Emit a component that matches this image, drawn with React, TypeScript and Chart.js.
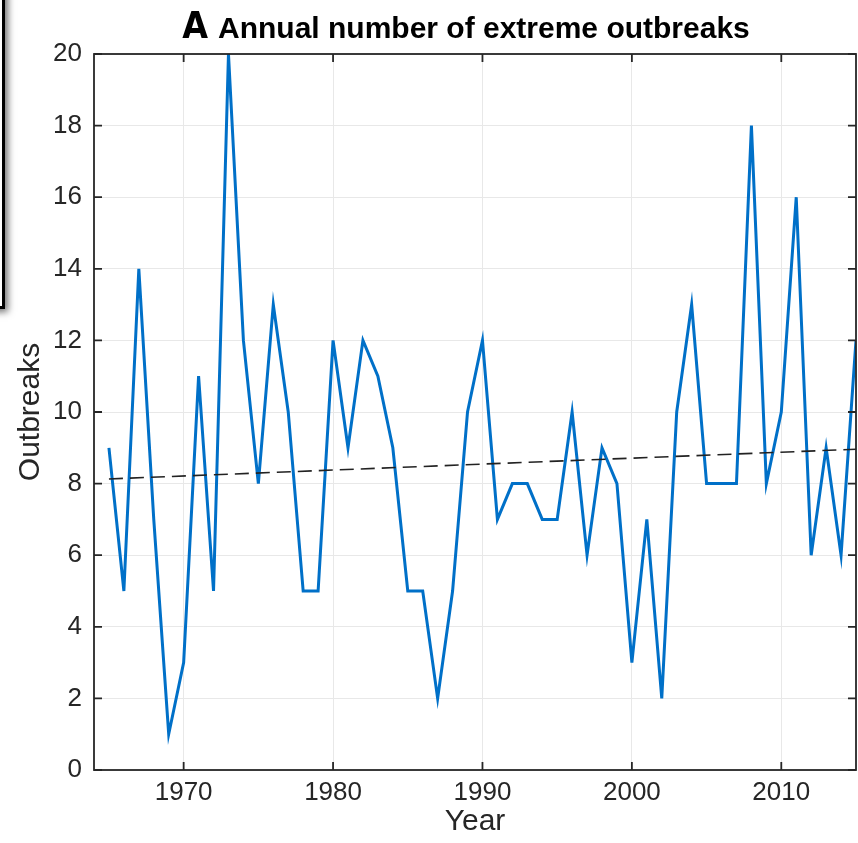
import React, { useEffect, useRef } from "react";
import { Chart, registerables } from "chart.js";

Chart.register(...registerables);

const YEARS = [
  1965, 1966, 1967, 1968, 1969, 1970, 1971, 1972, 1973, 1974,
  1975, 1976, 1977, 1978, 1979, 1980, 1981, 1982, 1983, 1984,
  1985, 1986, 1987, 1988, 1989, 1990, 1991, 1992, 1993, 1994,
  1995, 1996, 1997, 1998, 1999, 2000, 2001, 2002, 2003, 2004,
  2005, 2006, 2007, 2008, 2009, 2010, 2011, 2012, 2013, 2014,
  2015,
];
const OUTBREAKS = [
  9, 5, 14, 7, 1, 3, 11, 5, 20, 12,
  8, 13, 10, 5, 5, 12, 9, 12, 11, 9,
  5, 5, 2, 5, 10, 12, 7, 8, 8, 7,
  7, 10, 6, 9, 8, 3, 7, 2, 10, 13,
  8, 8, 8, 18, 8, 10, 16, 6, 9, 6,
  12,
];
const TREND_YEARS = [1965, 2015];
const TREND_VALUES = [8.13, 8.96];

const X_TICKS = [1970, 1980, 1990, 2000, 2010];
const Y_TICKS = [0, 2, 4, 6, 8, 10, 12, 14, 16, 18, 20];

const TITLE_LETTER = "A";
const TITLE_TEXT = "Annual number of extreme outbreaks";
const X_LABEL = "Year";
const Y_LABEL = "Outbreaks";

const FAMILY = "'Liberation Sans', Arial, Helvetica, sans-serif";
const AXIS_COLOR = "#262626";

const framePlugin = {
  id: "matlabFrame",
  afterDatasetsDraw(chart: any) {
    const { ctx, chartArea: a, scales } = chart;
    ctx.save();
    ctx.strokeStyle = AXIS_COLOR;
    ctx.lineWidth = 1.8;
    ctx.strokeRect(a.left, a.top, a.right - a.left, a.bottom - a.top);
    const tl = 8;
    ctx.beginPath();
    for (const v of X_TICKS) {
      const x = scales.x.getPixelForValue(v);
      ctx.moveTo(x, a.bottom);
      ctx.lineTo(x, a.bottom - tl);
      ctx.moveTo(x, a.top);
      ctx.lineTo(x, a.top + tl);
    }
    for (const v of Y_TICKS) {
      const y = scales.y.getPixelForValue(v);
      ctx.moveTo(a.left, y);
      ctx.lineTo(a.left + tl, y);
      ctx.moveTo(a.right, y);
      ctx.lineTo(a.right - tl, y);
    }
    ctx.stroke();

    // title
    ctx.fillStyle = "#000";
    ctx.textBaseline = "alphabetic";
    ctx.textAlign = "left";
    const letterFont =
      "bold 37px 'Liberation Sans Narrow', 'DejaVu Sans Condensed', 'Liberation Sans', sans-serif";
    const textFont = `bold 30px ${FAMILY}`;
    ctx.font = letterFont;
    const wA = ctx.measureText(TITLE_LETTER).width;
    ctx.font = textFont;
    const wT = ctx.measureText(TITLE_TEXT).width;
    const gap = 10;
    const total = wA + gap + wT;
    const cx = (a.left + a.right) / 2 - 9;
    const startX = cx - total / 2;
    const baseY = a.top - 16;
    ctx.font = letterFont;
    ctx.fillText(TITLE_LETTER, startX, baseY);
    ctx.font = textFont;
    ctx.fillText(TITLE_TEXT, startX + wA + gap, baseY);
    ctx.restore();
  },
};

export default function App() {
  const ref = useRef<HTMLCanvasElement>(null);

  useEffect(() => {
    document.body.style.margin = "0";
    const outbreakPoints = YEARS.map((yr, i) => ({ x: yr, y: OUTBREAKS[i] }));
    const trendPoints = TREND_YEARS.map((yr, i) => ({ x: yr, y: TREND_VALUES[i] }));

    const chart = new Chart(ref.current as HTMLCanvasElement, {
      type: "line",
      data: {
        datasets: [
          {
            label: "Trend",
            data: trendPoints,
            borderColor: "#222222",
            borderWidth: 1.6,
            borderDash: [14, 7],
            pointRadius: 0,
            fill: false,
            tension: 0,
          },
          {
            label: "Outbreaks",
            data: outbreakPoints,
            borderColor: "#0070C8",
            borderWidth: 3,
            pointRadius: 0,
            fill: false,
            tension: 0,
          },
        ],
      },
      options: {
        animation: false,
        responsive: false,
        devicePixelRatio: 1,
        layout: { padding: { left: 0, right: 2, top: 54, bottom: 0 } },
        plugins: {
          legend: { display: false },
          tooltip: { enabled: false },
          title: { display: false },
        },
        scales: {
          x: {
            type: "linear",
            min: 1964,
            max: 2015,
            afterBuildTicks: (s: any) => {
              s.ticks = X_TICKS.map((v) => ({ value: v }));
            },
            afterFit: (s: any) => {
              s.height = 73;
            },
            grid: { color: "#e8e8e8", lineWidth: 1, drawTicks: false },
            border: { display: false },
            ticks: {
              padding: 7,
              color: AXIS_COLOR,
              font: { family: FAMILY, size: 26 },
              maxRotation: 0,
              autoSkip: false,
              callback: (v: any) => String(v),
            },
            title: {
              display: true,
              text: X_LABEL,
              color: AXIS_COLOR,
              font: { family: FAMILY, size: 30 },
              padding: { top: 0, bottom: 3 },
            },
          },
          y: {
            type: "linear",
            min: 0,
            max: 20,
            afterBuildTicks: (s: any) => {
              s.ticks = Y_TICKS.map((v) => ({ value: v }));
            },
            afterFit: (s: any) => {
              s.width = 94;
            },
            grid: { color: "#e8e8e8", lineWidth: 1, drawTicks: false },
            border: { display: false },
            ticks: {
              padding: 12,
              color: AXIS_COLOR,
              font: { family: FAMILY, size: 26 },
              autoSkip: false,
              callback: (v: any) => String(v),
            },
            title: {
              display: true,
              text: Y_LABEL,
              color: AXIS_COLOR,
              font: { family: FAMILY, size: 30 },
              padding: { top: 13, bottom: 0 },
            },
          },
        },
      },
      plugins: [framePlugin],
    } as any);

    return () => chart.destroy();
  }, []);

  return (
    <div
      style={{
        position: "absolute",
        left: 0,
        top: 0,
        width: 858,
        height: 843,
        overflow: "hidden",
        background: "#fff",
      }}
    >
      <canvas
        ref={ref}
        width={858}
        height={843}
        style={{ display: "block", width: 858, height: 843 }}
      />
      <div
        style={{
          position: "absolute",
          left: -50,
          top: -50,
          width: 55,
          height: 359,
          boxSizing: "border-box",
          border: "3px solid #000",
          boxShadow: "3px 3px 7px rgba(0,0,0,0.55)",
          background: "#fff",
        }}
      />
    </div>
  );
}
